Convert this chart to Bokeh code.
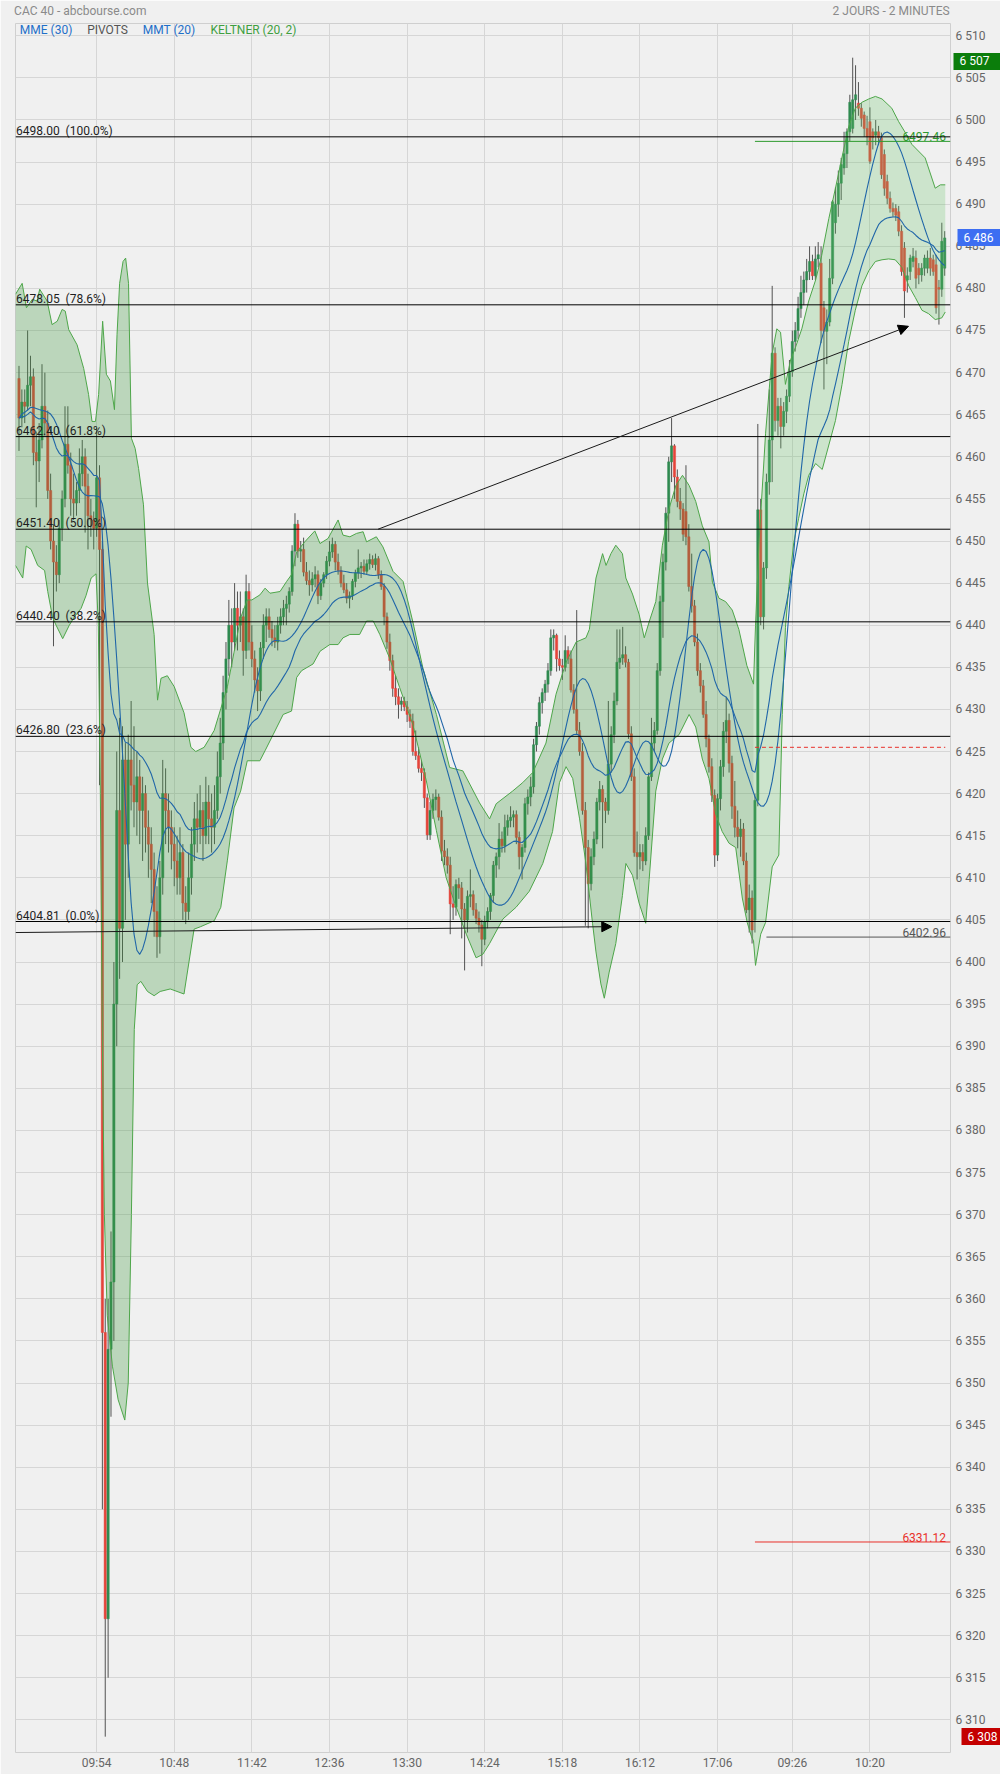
import numpy as np
import pandas as pd
from bokeh.plotting import figure
from bokeh.models import Range1d, FixedTicker, Span, Label, Arrow, NormalHead, LinearAxis
from bokeh.embed import file_html
from bokeh.resources import INLINE
from bokeh.core.properties import value

# ---------------- data (2-minute bars, CAC 40, two sessions) ----------------
open_ = [6469.3, 6464.6, 6466.5, 6466.0, 6468.5, 6469.5, 6460.5, 6459.5, 6462.0, 6466.0,
         6464.0, 6456.0, 6450.0, 6447.5, 6446.0, 6451.5, 6455.0, 6461.5, 6459.0, 6455.0,
         6454.5, 6456.0, 6458.0, 6460.0, 6456.5, 6453.0, 6452.5, 6451.5, 6457.5, 6449.0,
         6356.0, 6322.0, 6354.0, 6362.0, 6395.0, 6418.0, 6404.0, 6424.0, 6414.0, 6424.0,
         6421.0, 6419.0, 6422.0, 6418.0, 6420.0, 6416.0, 6414.0, 6411.0, 6406.0, 6403.0,
         6410.0, 6420.0, 6418.0, 6416.0, 6414.0, 6412.0, 6410.0, 6413.0, 6407.0, 6406.0,
         6410.0, 6414.0, 6417.0, 6416.0, 6418.0, 6415.0, 6419.0, 6417.0, 6416.0, 6418.0,
         6422.0, 6426.0, 6432.0, 6436.0, 6440.0, 6438.0, 6442.0, 6440.0, 6441.0, 6437.0,
         6444.0, 6438.0, 6436.0, 6433.5, 6432.2, 6437.3, 6440.0, 6441.0, 6439.5, 6438.5,
         6438.0, 6440.0, 6441.0, 6442.0, 6442.5, 6444.0, 6448.8, 6452.0, 6448.8, 6449.0,
         6446.3, 6445.3, 6444.8, 6445.5, 6446.0, 6443.5, 6445.0, 6446.0, 6447.6, 6448.7,
         6449.6, 6447.5, 6446.5, 6445.0, 6444.2, 6443.2, 6443.5, 6445.2, 6446.2, 6446.8,
         6447.0, 6446.4, 6447.3, 6447.8, 6447.2, 6447.9, 6446.0, 6444.6, 6441.0, 6438.0,
         6435.8, 6432.5, 6431.5, 6430.6, 6431.0, 6430.3, 6429.4, 6428.6, 6425.0, 6424.5,
         6423.0, 6422.5, 6419.5, 6415.1, 6418.0, 6419.3, 6419.6, 6417.2, 6413.2, 6412.5,
         6411.5, 6406.9, 6406.5, 6409.2, 6408.8, 6406.3, 6405.0, 6407.8, 6408.0, 6406.2,
         6405.2, 6404.4, 6402.7, 6404.8, 6406.0, 6407.9, 6411.5, 6412.5, 6414.6, 6413.8,
         6416.0, 6416.8, 6417.2, 6417.5, 6414.8, 6412.5, 6413.6, 6418.8, 6419.6, 6420.8,
         6425.8, 6428.0, 6430.8, 6432.0, 6433.0, 6434.6, 6438.5, 6438.8, 6436.0, 6435.2,
         6435.0, 6437.0, 6436.0, 6432.3, 6430.0, 6427.5, 6425.0, 6418.0, 6413.6, 6409.3,
         6412.5, 6414.6, 6419.0, 6420.5, 6419.0, 6418.0, 6423.5, 6427.0, 6431.0, 6435.6,
         6436.1, 6436.5, 6435.6, 6427.1, 6422.0, 6413.0, 6412.5, 6413.0, 6412.0, 6415.0,
         6422.0, 6426.0, 6427.5, 6434.6, 6442.8, 6447.5, 6453.3, 6459.4, 6461.3, 6457.6,
         6454.7, 6453.8, 6453.5, 6450.5, 6444.6, 6442.3, 6438.0, 6434.6, 6432.8, 6429.4,
         6426.5, 6423.2, 6419.8, 6412.7, 6419.4, 6423.2, 6427.4, 6428.7, 6423.6, 6418.5,
         6416.0, 6414.9, 6415.8, 6412.0, 6406.2, 6407.6, 6405.0, 6419.2, 6453.7, 6441.0,
         6446.8, 6457.0, 6462.0, 6472.3, 6464.3, 6466.0, 6463.6, 6465.4, 6467.2, 6470.1,
         6473.7, 6475.0, 6477.6, 6479.5, 6481.0, 6482.0, 6483.2, 6481.5, 6483.5, 6483.0,
         6477.7, 6474.9, 6476.0, 6481.2, 6487.8, 6490.0, 6492.5, 6494.3, 6496.0, 6498.6,
         6499.0, 6502.4, 6502.0, 6501.4, 6500.6, 6499.0, 6499.8, 6498.6, 6498.2, 6498.6,
         6497.9, 6495.9, 6492.7, 6490.7, 6489.5, 6489.5, 6489.1, 6486.8, 6484.8, 6481.0,
         6482.0, 6483.2, 6483.6, 6482.4, 6481.6, 6482.4, 6482.4, 6483.6, 6483.4, 6482.8,
         6480.1, 6479.9, 6482.4]
high = [6470.8, 6468.0, 6468.0, 6475.0, 6472.0, 6470.5, 6463.0, 6464.0, 6471.0, 6470.0,
        6465.5, 6458.0, 6452.0, 6449.5, 6452.5, 6456.0, 6466.0, 6466.0, 6460.5, 6458.0,
        6457.0, 6461.0, 6462.0, 6461.0, 6458.0, 6455.0, 6453.5, 6463.4, 6459.0, 6450.0,
        6360.0, 6360.0, 6368.0, 6400.0, 6425.0, 6429.0, 6428.0, 6426.0, 6427.0, 6431.0,
        6428.0, 6425.0, 6424.0, 6422.0, 6421.0, 6418.0, 6416.0, 6413.0, 6409.0, 6412.0,
        6424.0, 6423.0, 6420.0, 6418.0, 6416.0, 6415.0, 6416.0, 6414.0, 6409.0, 6413.0,
        6416.0, 6419.0, 6420.0, 6421.0, 6419.0, 6422.0, 6421.0, 6420.0, 6421.0, 6425.0,
        6429.0, 6434.0, 6438.0, 6443.0, 6442.0, 6445.0, 6444.0, 6444.0, 6442.0, 6446.0,
        6445.0, 6440.0, 6437.0, 6435.0, 6438.0, 6441.3, 6442.0, 6442.0, 6440.5, 6440.0,
        6441.0, 6442.0, 6443.0, 6443.5, 6444.5, 6449.5, 6453.3, 6452.5, 6450.0, 6450.4,
        6447.5, 6446.5, 6446.3, 6447.0, 6446.5, 6445.5, 6446.3, 6448.2, 6450.0, 6450.4,
        6450.0, 6448.5, 6447.0, 6446.0, 6445.0, 6444.0, 6445.5, 6446.6, 6449.0, 6447.5,
        6447.8, 6447.8, 6448.5, 6448.3, 6448.5, 6448.2, 6446.5, 6445.0, 6441.5, 6439.0,
        6436.5, 6434.0, 6432.5, 6431.5, 6431.5, 6431.0, 6430.0, 6429.5, 6427.5, 6425.5,
        6424.0, 6423.0, 6420.0, 6419.0, 6420.0, 6420.5, 6420.0, 6418.0, 6414.5, 6413.5,
        6412.5, 6409.0, 6409.8, 6410.0, 6409.5, 6407.0, 6408.5, 6411.0, 6408.5, 6407.0,
        6406.0, 6405.0, 6405.5, 6406.5, 6408.2, 6412.0, 6413.0, 6416.5, 6415.5, 6417.5,
        6417.5, 6418.5, 6418.0, 6418.0, 6415.5, 6414.0, 6419.5, 6420.5, 6422.0, 6426.5,
        6428.5, 6431.5, 6432.5, 6433.5, 6435.5, 6439.5, 6439.5, 6439.0, 6437.0, 6436.0,
        6438.8, 6437.5, 6437.0, 6433.0, 6441.8, 6428.5, 6426.0, 6419.0, 6414.5, 6413.5,
        6415.5, 6419.5, 6421.5, 6421.0, 6419.5, 6431.0, 6428.0, 6432.0, 6439.5, 6439.5,
        6439.8, 6437.5, 6436.0, 6428.0, 6423.0, 6415.5, 6414.0, 6414.0, 6416.0, 6422.5,
        6429.0, 6428.5, 6435.5, 6443.5, 6448.5, 6454.0, 6460.0, 6464.6, 6461.5, 6458.5,
        6456.3, 6454.5, 6459.0, 6452.0, 6448.5, 6443.0, 6439.0, 6435.5, 6433.5, 6431.0,
        6427.0, 6424.2, 6420.5, 6420.0, 6424.0, 6428.5, 6431.5, 6429.5, 6424.5, 6421.5,
        6418.0, 6417.0, 6416.5, 6413.0, 6409.2, 6408.5, 6420.0, 6463.9, 6455.0, 6447.5,
        6458.0, 6468.0, 6480.3, 6473.0, 6467.0, 6467.0, 6466.5, 6468.0, 6471.5, 6475.0,
        6476.0, 6479.0, 6481.5, 6482.0, 6483.5, 6485.0, 6484.0, 6485.0, 6485.5, 6485.0,
        6478.5, 6477.5, 6483.5, 6490.5, 6492.0, 6494.0, 6495.5, 6498.6, 6499.0, 6503.0,
        6507.4, 6506.5, 6504.5, 6502.0, 6501.0, 6500.5, 6501.5, 6499.0, 6500.0, 6499.3,
        6498.5, 6496.5, 6493.5, 6491.5, 6490.2, 6490.0, 6489.8, 6487.5, 6485.5, 6482.5,
        6484.0, 6484.8, 6484.5, 6483.0, 6483.0, 6484.0, 6484.5, 6484.8, 6484.0, 6484.0,
        6481.0, 6487.8, 6486.8]
low = [6460.7, 6463.5, 6464.0, 6465.5, 6466.0, 6459.0, 6454.0, 6457.0, 6461.0, 6462.5,
       6455.0, 6449.0, 6437.5, 6444.0, 6445.0, 6450.0, 6454.0, 6458.0, 6453.0, 6452.5,
       6453.0, 6454.5, 6456.5, 6451.0, 6449.0, 6450.5, 6449.0, 6450.5, 6421.0, 6335.0,
       6308.0, 6315.0, 6346.0, 6355.0, 6390.0, 6398.0, 6400.0, 6405.0, 6410.0, 6418.0,
       6416.0, 6415.0, 6414.0, 6412.0, 6413.0, 6410.0, 6407.0, 6403.0, 6400.5, 6401.0,
       6408.0, 6414.0, 6413.0, 6411.0, 6409.0, 6408.0, 6408.0, 6405.0, 6404.5, 6405.0,
       6408.0, 6412.0, 6413.0, 6414.0, 6412.0, 6414.0, 6414.0, 6413.0, 6414.0, 6417.0,
       6420.0, 6424.0, 6430.0, 6434.0, 6435.0, 6437.0, 6437.0, 6438.0, 6434.0, 6436.0,
       6437.0, 6435.0, 6432.0, 6429.8, 6431.0, 6436.0, 6438.0, 6438.5, 6437.5, 6437.3,
       6437.0, 6439.0, 6440.0, 6440.0, 6441.5, 6443.5, 6447.0, 6448.0, 6447.5, 6445.8,
       6444.8, 6443.5, 6444.0, 6444.5, 6442.5, 6443.0, 6444.5, 6445.5, 6447.0, 6448.0,
       6446.5, 6446.0, 6444.5, 6443.8, 6442.6, 6442.0, 6443.0, 6444.5, 6445.5, 6445.6,
       6446.0, 6446.0, 6446.6, 6446.8, 6446.5, 6445.5, 6444.2, 6440.0, 6437.2, 6434.6,
       6431.5, 6430.5, 6428.9, 6429.8, 6429.8, 6428.5, 6427.8, 6424.5, 6424.0, 6422.5,
       6421.5, 6418.3, 6414.5, 6414.5, 6417.0, 6418.0, 6416.8, 6412.0, 6411.5, 6410.5,
       6403.3, 6405.0, 6405.5, 6407.5, 6402.8, 6399.0, 6403.5, 6406.5, 6405.5, 6404.5,
       6403.5, 6399.5, 6402.0, 6404.0, 6405.0, 6407.0, 6410.0, 6411.0, 6413.0, 6413.0,
       6415.0, 6416.0, 6416.0, 6414.0, 6411.0, 6409.8, 6413.0, 6417.5, 6418.5, 6420.0,
       6425.0, 6427.0, 6429.5, 6431.0, 6432.0, 6434.0, 6437.0, 6434.5, 6434.6, 6433.5,
       6434.5, 6435.4, 6432.0, 6429.5, 6427.0, 6424.5, 6417.5, 6404.3, 6404.0, 6408.5,
       6411.5, 6414.0, 6418.0, 6413.5, 6416.5, 6417.5, 6422.5, 6426.0, 6430.5, 6434.8,
       6435.3, 6435.0, 6426.5, 6421.5, 6412.5, 6409.8, 6411.0, 6410.8, 6411.5, 6414.5,
       6421.5, 6425.0, 6427.0, 6434.0, 6438.5, 6446.5, 6449.9, 6457.0, 6455.0, 6454.0,
       6452.5, 6450.0, 6449.5, 6444.0, 6441.5, 6437.5, 6434.0, 6432.0, 6429.0, 6425.5,
       6422.5, 6419.0, 6411.3, 6412.0, 6418.0, 6422.0, 6426.0, 6422.5, 6417.0, 6414.8,
       6413.5, 6412.5, 6411.5, 6405.8, 6403.5, 6402.2, 6403.5, 6418.5, 6440.0, 6439.5,
       6445.5, 6455.5, 6457.0, 6463.0, 6462.5, 6461.0, 6462.5, 6464.0, 6466.5, 6469.5,
       6472.5, 6474.0, 6476.5, 6478.0, 6479.5, 6481.0, 6481.0, 6481.0, 6482.5, 6473.5,
       6468.0, 6471.0, 6475.5, 6480.5, 6486.5, 6488.5, 6490.5, 6493.5, 6494.3, 6497.5,
       6498.4, 6500.0, 6500.5, 6499.2, 6498.0, 6497.0, 6494.8, 6496.5, 6497.0, 6497.0,
       6493.0, 6491.0, 6490.0, 6489.0, 6488.5, 6488.0, 6486.2, 6481.5, 6476.5, 6479.5,
       6481.0, 6482.5, 6480.0, 6480.5, 6480.8, 6481.5, 6481.8, 6481.5, 6481.5, 6477.0,
       6475.7, 6479.0, 6481.5]
close = [6464.6, 6466.5, 6466.0, 6468.5, 6469.5, 6460.5, 6459.5, 6462.0, 6466.0, 6464.0,
         6456.0, 6450.0, 6447.5, 6446.0, 6451.5, 6455.0, 6461.5, 6459.0, 6455.0, 6454.5,
         6456.0, 6458.0, 6460.0, 6456.5, 6453.0, 6452.5, 6451.5, 6457.5, 6449.0, 6356.0,
         6322.0, 6354.0, 6362.0, 6395.0, 6418.0, 6404.0, 6424.0, 6414.0, 6424.0, 6421.0,
         6419.0, 6422.0, 6418.0, 6420.0, 6416.0, 6414.0, 6411.0, 6406.0, 6403.0, 6410.0,
         6420.0, 6418.0, 6416.0, 6414.0, 6412.0, 6410.0, 6413.0, 6407.0, 6406.0, 6410.0,
         6414.0, 6417.0, 6416.0, 6418.0, 6415.0, 6419.0, 6417.0, 6416.0, 6418.0, 6422.0,
         6426.0, 6432.0, 6436.0, 6440.0, 6438.0, 6442.0, 6440.0, 6441.0, 6437.0, 6444.0,
         6438.0, 6436.0, 6433.5, 6432.2, 6437.3, 6440.0, 6441.0, 6439.5, 6438.5, 6438.0,
         6440.0, 6441.0, 6442.0, 6442.5, 6444.0, 6448.8, 6452.0, 6448.8, 6449.0, 6446.3,
         6445.3, 6444.8, 6445.5, 6446.0, 6443.5, 6445.0, 6446.0, 6447.6, 6448.7, 6449.6,
         6447.5, 6446.5, 6445.0, 6444.2, 6443.2, 6443.5, 6445.2, 6446.2, 6446.8, 6447.0,
         6446.4, 6447.3, 6447.8, 6447.2, 6447.9, 6446.0, 6444.6, 6441.0, 6438.0, 6435.8,
         6432.5, 6431.5, 6430.6, 6431.0, 6430.3, 6429.4, 6428.6, 6425.0, 6424.5, 6423.0,
         6422.5, 6419.5, 6415.1, 6418.0, 6419.3, 6419.6, 6417.2, 6413.2, 6412.5, 6411.5,
         6406.9, 6406.5, 6409.2, 6408.8, 6406.3, 6405.0, 6407.8, 6408.0, 6406.2, 6405.2,
         6404.4, 6402.7, 6404.8, 6406.0, 6407.9, 6411.5, 6412.5, 6414.6, 6413.8, 6416.0,
         6416.8, 6417.2, 6417.5, 6414.8, 6412.5, 6413.6, 6418.8, 6419.6, 6420.8, 6425.8,
         6428.0, 6430.8, 6432.0, 6433.0, 6434.6, 6438.5, 6438.8, 6436.0, 6435.2, 6435.0,
         6437.0, 6436.0, 6432.3, 6430.0, 6427.5, 6425.0, 6418.0, 6413.6, 6409.3, 6412.5,
         6414.6, 6419.0, 6420.5, 6419.0, 6418.0, 6423.5, 6427.0, 6431.0, 6435.6, 6436.1,
         6436.5, 6435.6, 6427.1, 6422.0, 6413.0, 6412.5, 6413.0, 6412.0, 6415.0, 6422.0,
         6426.0, 6427.5, 6434.6, 6442.8, 6447.5, 6453.3, 6459.4, 6461.3, 6457.6, 6454.7,
         6453.8, 6450.8, 6450.5, 6444.6, 6442.3, 6438.0, 6434.6, 6432.8, 6429.4, 6426.5,
         6423.2, 6419.8, 6412.7, 6419.4, 6423.2, 6427.4, 6428.7, 6423.6, 6418.5, 6416.0,
         6414.9, 6415.8, 6412.0, 6406.2, 6407.6, 6403.8, 6419.2, 6453.7, 6441.0, 6446.8,
         6457.0, 6462.0, 6472.3, 6464.3, 6466.0, 6463.6, 6465.4, 6467.2, 6470.1, 6473.7,
         6475.0, 6477.6, 6479.5, 6481.0, 6482.0, 6483.2, 6481.5, 6483.5, 6484.0, 6475.0,
         6474.9, 6476.0, 6481.2, 6490.3, 6490.0, 6492.5, 6494.7, 6496.0, 6498.6, 6502.1,
         6502.4, 6503.0, 6501.4, 6500.2, 6499.0, 6498.0, 6495.1, 6497.9, 6498.6, 6497.9,
         6493.5, 6491.9, 6490.7, 6489.5, 6489.1, 6488.7, 6486.8, 6482.0, 6479.7, 6481.5,
         6483.6, 6483.8, 6481.2, 6481.6, 6482.4, 6483.6, 6483.6, 6482.4, 6482.0, 6477.7,
         6479.9, 6485.6, 6486.0]

# Keltner (20, 2) envelope: bar position -> value
kup1_x = [-1.22, 1.1, 2.6, 4.6, 6.3, 7.2, 9.8, 11.5, 13.3, 15.0, 16.1, 17.3, 20.2, 22.5, 24.2, 25.4,
          26.6, 27.7, 29.1, 30.4, 31.8, 33.2, 34.1, 35.0, 36.2, 37.1, 38.1, 39.1, 40.4, 41.6, 43.3,
          44.7, 47.0, 48.2, 49.4, 51.6, 54.0, 57.4, 59.8, 61.5, 64.4, 67.9, 70.2, 72.5, 74.8, 77.1,
          79.4, 81.0, 83.8, 85.6, 87.3, 90.8, 93.1, 94.8, 96.6, 99.4, 102.9, 104.7, 107.5, 111.0,
          112.7, 115.1, 117.4, 119.7, 120.9, 124.3, 126.6, 130.1, 133.6, 137.0, 140.5, 145.2, 149.8,
          154.4, 160.2, 163.7, 166.0, 171.7, 175.2, 178.7, 183.3, 186.8, 190.3, 193.8, 197.2, 198.4,
          200.7, 203.0, 204.2, 205.9, 207.6, 209.9, 211.1, 213.4, 215.7, 217.5, 219.2, 221.5, 223.8,
          226.1, 228.5, 230.8, 233.1, 235.4, 237.7, 240.0, 241.2, 243.5, 245.8, 248.1, 250.4, 253.2,
          255.5]
kup1_v = [6479.3, 6480.6, 6477.7, 6478.7, 6478.5, 6479.9, 6478.5, 6475.7, 6476.1, 6477.5, 6477.3,
          6475.1, 6473.3, 6470.5, 6467.4, 6464.2, 6464.2, 6467.4, 6476.1, 6469.8, 6469.0, 6465.6,
          6474.5, 6480.6, 6483.2, 6483.6, 6480.6, 6462.2, 6461.0, 6458.6, 6454.3, 6445.0, 6438.9,
          6431.1, 6433.7, 6434.0, 6432.7, 6429.6, 6425.5, 6425.0, 6425.5, 6427.5, 6430.1, 6432.7,
          6436.8, 6440.9, 6443.0, 6443.0, 6443.6, 6444.4, 6443.8, 6444.0, 6445.2, 6446.0, 6448.7,
          6449.9, 6451.2, 6449.7, 6450.3, 6452.5, 6450.7, 6450.5, 6450.9, 6451.1, 6449.9, 6450.5,
          6449.3, 6446.4, 6445.2, 6440.4, 6434.9, 6429.4, 6423.1, 6422.7, 6418.9, 6417.0, 6418.8,
          6420.3, 6421.3, 6422.5, 6426.0, 6431.8, 6435.6, 6438.0, 6438.5, 6439.5, 6445.6, 6448.5,
          6447.1, 6448.5, 6449.5, 6448.5, 6445.6, 6443.7, 6441.3, 6438.5, 6440.4, 6442.8, 6449.5,
          6453.8, 6456.6, 6457.8, 6456.6, 6454.7, 6451.8, 6449.9, 6445.1, 6443.2, 6442.8, 6441.8,
          6439.5, 6435.2, 6433.0]
klo1_x = [-1.22, 1.3, 2.5, 4.2, 6.5, 8.9, 10.0, 11.7, 12.9, 15.2, 17.5, 19.3, 21.6, 23.3, 25.1,
          26.8, 27.6, 28.3, 29.0, 29.7, 30.7, 32.5, 34.5, 36.8, 38.0, 39.1, 40.1, 41.1, 42.4, 44.7,
          47.0, 49.1, 52.6, 57.4, 60.9, 63.2, 67.9, 70.2, 72.5, 74.8, 77.1, 79.4, 83.8, 85.6, 88.4,
          91.9, 94.8, 96.6, 98.3, 102.3, 104.7, 108.1, 111.0, 112.7, 115.1, 118.5, 120.9, 123.2,
          125.5, 128.9, 132.4, 137.0, 141.7, 145.2, 148.6, 152.1, 155.6, 159.0, 161.3, 163.7, 168.3,
          172.9, 177.5, 182.2, 185.6, 188.0, 190.3, 192.6, 195.0, 197.2, 199.5, 200.7, 202.4, 203.6,
          205.3, 207.6, 209.9, 211.1, 213.4, 215.7, 218.0, 219.2, 221.5, 223.8, 226.1, 229.6, 233.1,
          235.4, 237.7, 240.0, 242.4, 244.6, 247.0, 249.3, 251.6, 253.3, 254.8, 255.5]
klo1_v = [6447.1, 6445.6, 6449.4, 6449.0, 6447.1, 6446.5, 6444.0, 6440.9, 6440.0, 6438.4, 6440.0,
          6441.0, 6442.0, 6443.5, 6445.6, 6446.1, 6440.0, 6420.0, 6390.0, 6370.0, 6358.0, 6352.0,
          6348.0, 6345.6, 6350.0, 6370.0, 6392.0, 6397.3, 6397.7, 6396.5, 6396.0, 6396.5, 6396.8,
          6396.2, 6403.9, 6404.2, 6404.9, 6406.5, 6412.1, 6418.3, 6420.3, 6423.9, 6423.9, 6425.1,
          6427.0, 6429.4, 6429.8, 6433.8, 6434.6, 6435.4, 6436.9, 6437.7, 6437.7, 6438.5, 6438.9,
          6438.9, 6440.5, 6440.5, 6438.9, 6436.1, 6432.6, 6428.2, 6421.5, 6415.6, 6410.0, 6406.5,
          6403.3, 6400.5, 6400.9, 6402.2, 6405.1, 6406.5, 6408.4, 6411.7, 6415.5, 6421.3, 6423.2,
          6421.8, 6417.0, 6411.7, 6404.6, 6401.2, 6397.4, 6395.7, 6398.8, 6402.2, 6407.9, 6411.7,
          6410.3, 6407.0, 6404.6, 6409.8, 6420.3, 6424.1, 6426.0, 6427.0, 6429.4, 6427.9, 6424.1,
          6421.8, 6417.5, 6415.5, 6414.1, 6413.6, 6407.6, 6404.7, 6403.0, 6402.5]
kup2_x = [255.5, 256.2, 257.4, 259.7, 262.0, 263.6, 264.9, 266.6, 268.4, 270.1, 272.3, 274.7, 277.1,
          279.2, 281.7, 284.0, 286.3, 288.6, 290.9, 293.2, 295.6, 297.9, 300.2, 303.6, 306.0, 308.3,
          310.6, 315.2, 318.7, 320.5, 322.2]
kup2_v = [6433.0, 6440.0, 6449.8, 6462.8, 6472.3, 6475.2, 6474.8, 6468.6, 6471.5, 6473.0, 6475.2,
          6478.5, 6481.0, 6483.9, 6488.3, 6491.9, 6495.6, 6499.2, 6501.4, 6502.1, 6502.5, 6502.8,
          6502.5, 6501.4, 6499.8, 6498.5, 6497.1, 6495.5, 6491.9, 6492.3, 6492.3]
klo2_x = [255.5, 256.2, 258.0, 259.7, 262.0, 264.3, 265.5, 266.6, 267.8, 269.5, 271.2, 273.0, 274.7,
          277.1, 279.4, 281.7, 284.0, 286.3, 288.6, 290.9, 293.2, 295.6, 297.9, 300.2, 302.5, 304.8,
          307.1, 309.5, 311.8, 314.1, 316.4, 318.7, 321.0, 322.2]
klo2_v = [6402.5, 6399.6, 6403.3, 6404.7, 6411.3, 6412.7, 6429.4, 6439.7, 6444.6, 6449.8, 6452.7,
          6455.6, 6457.8, 6459.2, 6458.5, 6461.4, 6464.3, 6468.6, 6473.7, 6477.4, 6480.3, 6482.1,
          6483.2, 6483.4, 6483.5, 6483.4, 6482.5, 6480.3, 6478.9, 6477.4, 6477.0, 6476.3, 6476.5,
          6477.2]

# axis ticks
x_tick_pos = [27, 54, 81, 108, 135, 162, 189, 216, 243, 269, 296]
x_tick_labels = ["09:54", "10:48", "11:42", "12:36", "13:30", "14:24", "15:18", "16:12", "17:06",
                 "09:26", "10:20"]
y_ticks = list(range(6310, 6511, 5))

# Fibonacci retracement levels
fib_levels = [6498.00, 6478.05, 6462.40, 6451.40, 6440.40, 6426.80, 6404.81]
fib_pcts = ["100.0%", "78.6%", "61.8%", "50.0%", "38.2%", "23.6%", "0.0%"]

# pivot lines (value, first bar, colour)
pivot_values = [6497.46, 6402.96, 6331.12]
pivot_start = [256, 260, 256]
pivot_colors = ["#2e9a2e", "#555555", "#e8302a"]
dashed_level = 6425.5
dashed_start = 256

# trend arrows (start bar, start value, end bar, end value)
trend_x0 = [-1.22, 124.9]
trend_y0 = [6403.5, 6451.4]
trend_x1 = [206.2, 309.4]
trend_y1 = [6404.2, 6475.5]

# price flags on the right scale: high, last, low
flag_values = [6507, 6486, 6308]
flag_colors = ["#0b7d0b", "#3d6ef2", "#c40000"]

# header texts
header_texts = ["CAC 40 - abcbourse.com", "2 JOURS - 2 MINUTES"]

# ---------------- indicators ----------------
cs = pd.Series(close)
mme30 = cs.ewm(span=30, adjust=False).mean().to_numpy()
mmt20 = cs.rolling(10, min_periods=1).mean().rolling(11, min_periods=1).mean().to_numpy()

# ---------------- figure geometry ----------------
W, H = 1000, 1774
FL, FT, FW, FH = 15, 22, 937, 1730          # frame position inside the canvas
X0, X1 = -1.215, 324.02
Y0, Y1 = 6306.12, 6511.46


def xd(px):
    return X0 + (px - FL) / FW * (X1 - X0)


def sx(px):          # screen units, measured from the frame's left edge
    return px - FL


def sy(py):          # screen units, measured upward from the frame's bottom edge
    return (FT + FH) - py


p = figure(width=W, height=H, output_backend="svg", toolbar_location=None,
           x_range=Range1d(X0, X1), y_range=Range1d(Y0, Y1), y_axis_location="right",
           min_border_left=FL, min_border_right=W - FL - FW, min_border_top=FT,
           min_border_bottom=H - FT - FH,
           background_fill_color="#f0f0f0", border_fill_color="#f0f0f0",
           outline_line_color="#cfcfcf")


def plain_axis(ax, color="#666666", standoff=3):
    ax.axis_line_color = None
    ax.major_tick_line_color = None
    ax.minor_tick_line_color = None
    ax.major_tick_out = 0
    ax.major_tick_in = 0
    ax.minor_tick_out = 0
    ax.minor_tick_in = 0
    ax.major_label_text_font = "Roboto"
    ax.major_label_text_font_size = "12px"
    ax.major_label_text_color = color
    ax.major_label_standoff = standoff


p.xaxis.ticker = FixedTicker(ticks=x_tick_pos)
p.xaxis.major_label_overrides = {t: s for t, s in zip(x_tick_pos, x_tick_labels)}
p.yaxis.ticker = FixedTicker(ticks=y_ticks)
p.yaxis.major_label_overrides = {t: f"{t // 1000} {t % 1000:03d}" for t in y_ticks}
plain_axis(p.xaxis[0], standoff=3)
plain_axis(p.yaxis[0], standoff=5)
p.xgrid.ticker = FixedTicker(ticks=x_tick_pos)
p.ygrid.ticker = FixedTicker(ticks=y_ticks)
p.xgrid.grid_line_color = "#d6d6d6"
p.ygrid.grid_line_color = "#d6d6d6"

# header row: an axis above the frame carrying the two header texts
hdr_pos = [xd(14.3 + 65.6), xd(950.7 - 58.2)]
hdr_axis = LinearAxis(ticker=FixedTicker(ticks=hdr_pos),
                      major_label_overrides={t: s for t, s in zip(hdr_pos, header_texts)})
plain_axis(hdr_axis, color="#8a8a8a", standoff=6)
p.add_layout(hdr_axis, "above")

# price flags: extra right-hand axes stacked after the price scale (about 35 px wide);
# each one's single tick is drawn back over the scale as the coloured box
SCALE_W = 35
for v, col in zip(flag_values, flag_colors):
    fa = LinearAxis(ticker=FixedTicker(ticks=[v]),
                    major_label_overrides={v: f"{v // 1000} {v % 1000:03d}"})
    plain_axis(fa, color="#ffffff", standoff=-44)
    fa.major_tick_in = SCALE_W
    fa.major_tick_out = 15
    fa.major_tick_line_color = col
    fa.major_tick_line_width = 17
    fa.major_tick_line_cap = "butt"
    p.add_layout(fa, "right")

idx = np.arange(len(close))
o = np.array(open_)
c = np.array(close)
up = c >= o
body_col = np.where(up, "#2f8a50", "#e5443a")

# candles
p.segment(idx, low, idx, high, line_color="#525252", line_width=1)
p.vbar(x=idx, width=0.78, top=np.maximum(o, c), bottom=np.minimum(o, c),
       fill_color=body_col, line_color=body_col, line_width=0.5)

# Keltner envelope (drawn over the candles, translucent)
p.patch(kup1_x + klo1_x[::-1], kup1_v + klo1_v[::-1], fill_color="#439a43", fill_alpha=0.3,
        line_color=None)
p.patch(kup2_x + klo2_x[::-1], kup2_v + klo2_v[::-1], fill_color="#64c064", fill_alpha=0.26,
        line_color=None)
for xs, ys in ((kup1_x, kup1_v), (klo1_x, klo1_v), (kup2_x, kup2_v), (klo2_x, klo2_v)):
    p.line(xs, ys, line_color="#4ea64a", line_width=1)

# moving averages
p.line(idx, mme30, line_color="#2066a8", line_width=1.1)
p.line(idx, mmt20, line_color="#2066a8", line_width=1.1)

# Fibonacci levels
for lv in fib_levels:
    p.add_layout(Span(location=lv, dimension="width", line_color="#000000", line_width=1))
p.text(x=[xd(15.5)] * len(fib_levels), y=fib_levels,
       text=[f"{lv:.2f}\u00a0 ({pc})" for lv, pc in zip(fib_levels, fib_pcts)],
       text_baseline="bottom", text_align="left", text_font=value("Roboto"),
       text_font_size="12px", text_color="#1e1e1e", y_offset=1)

# pivots
p.segment(x0=pivot_start, y0=pivot_values, x1=[X1] * len(pivot_values), y1=pivot_values,
          line_color=pivot_colors, line_width=1)
p.text(x=[xd(947.5)] * len(pivot_values), y=pivot_values, text=[f"{v:.2f}" for v in pivot_values],
       text_align="right", text_baseline="bottom", text_font=value("Roboto"),
       text_font_size="12px", text_color=pivot_colors, y_offset=0)
p.segment(x0=[dashed_start], y0=[dashed_level], x1=[len(close) - 0.8], y1=[dashed_level],
          line_color="#e8302a", line_width=1, line_dash="4 3")

# trend arrows
for xa, ya, xb, yb in zip(trend_x0, trend_y0, trend_x1, trend_y1):
    p.add_layout(Arrow(end=NormalHead(size=10, fill_color="#000000", line_color="#000000"),
                       x_start=xa, y_start=ya, x_end=xb, y_end=yb,
                       line_color="#1a1a1a", line_width=1))

# legend row
for txt, px, col in (("MME (30)", 19.3, "#1f6fc8"), ("PIVOTS", 86.7, "#555555"),
                     ("MMT (20)", 142.3, "#1f6fc8"), ("KELTNER (20, 2)", 210.0, "#3f9f3f")):
    p.add_layout(Label(x=sx(px), y=sy(29.5), x_units="screen", y_units="screen", text=txt,
                       text_font="Roboto", text_font_size="12px", text_color=col,
                       text_baseline="middle", text_align="left"))

open("out.html", "w").write(file_html(p, INLINE))
